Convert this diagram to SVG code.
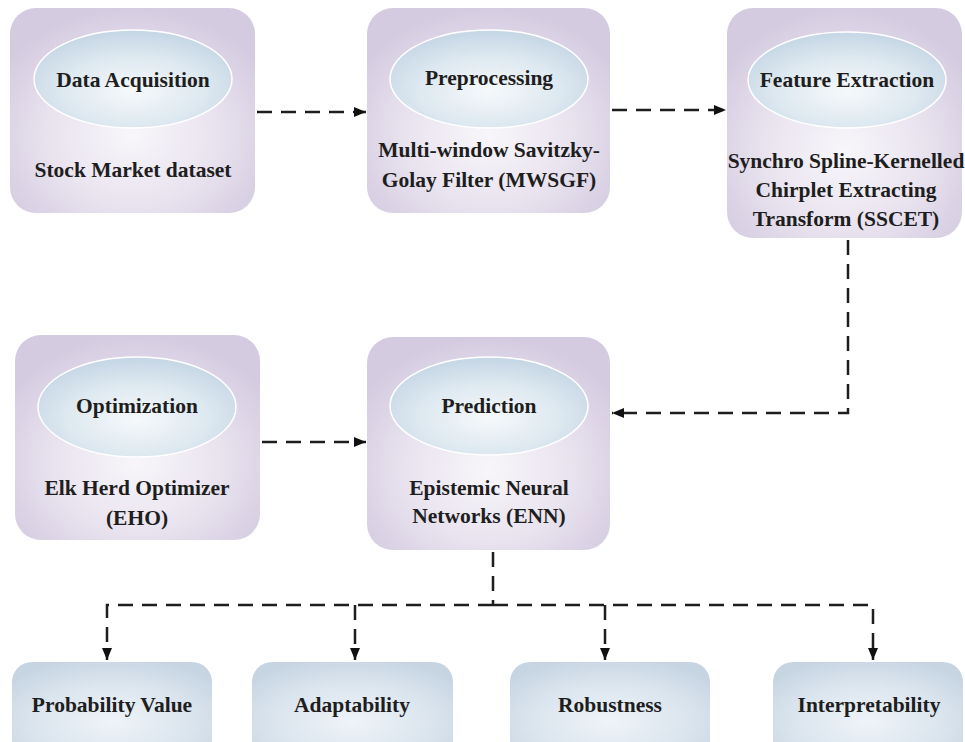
<svg xmlns="http://www.w3.org/2000/svg" width="965" height="742" viewBox="0 0 965 742">
<defs>
<radialGradient id="gBox" cx="50%" cy="62%" r="62%">
<stop offset="0" stop-color="#f8f6fa"/>
<stop offset="0.55" stop-color="#e9e3ef"/>
<stop offset="1" stop-color="#d4cbe0"/>
</radialGradient>
<radialGradient id="gEll" cx="50%" cy="62%" r="60%">
<stop offset="0" stop-color="#f6f9fb"/>
<stop offset="0.6" stop-color="#dde8f0"/>
<stop offset="1" stop-color="#c6d7e5"/>
</radialGradient>
<radialGradient id="gOut" cx="50%" cy="60%" r="65%">
<stop offset="0" stop-color="#eef3f8"/>
<stop offset="0.6" stop-color="#dbe5ee"/>
<stop offset="1" stop-color="#c7d5e3"/>
</radialGradient>
<marker id="arr" viewBox="0 0 12 10" refX="12" refY="5" markerWidth="12" markerHeight="10" markerUnits="userSpaceOnUse" orient="auto">
<path d="M0,0 L12,5 L0,10 Z" fill="#111"/>
</marker>
<style>
.box{fill:url(#gBox);}
.ell{fill:url(#gEll);stroke:#ffffff;stroke-width:1.5;}
.out{fill:url(#gOut);}
.t{font-weight:bold;font-size:21.5px;fill:#1e1e1e;text-anchor:middle;}
.c{fill:none;stroke:#1e1e1e;stroke-width:2.5;stroke-dasharray:15 9;}
</style>
</defs>

<g font-family="'Liberation Serif', 'DejaVu Serif', serif">
<g id="node-data-acquisition">
<rect class="box" x="10" y="8" width="245" height="205" rx="26"/>
<ellipse class="ell" cx="133" cy="79" rx="99" ry="49"/>
<text class="t" x="133" y="87">Data Acquisition</text>
<text class="t" x="133" y="177">Stock Market dataset</text>
</g>

<g id="node-preprocessing">
<rect class="box" x="367" y="8" width="243" height="205" rx="26"/>
<ellipse class="ell" cx="489" cy="79" rx="99" ry="49"/>
<text class="t" x="489" y="85">Preprocessing</text>
<text class="t" x="489" y="157">Multi-window Savitzky-</text>
<text class="t" x="489" y="187">Golay Filter (MWSGF)</text>
</g>

<g id="node-feature-extraction">
<rect class="box" x="727" y="8" width="235" height="230" rx="26"/>
<ellipse class="ell" cx="847" cy="80" rx="99" ry="48"/>
<text class="t" x="847" y="87">Feature Extraction</text>
<text class="t" x="846" y="168">Synchro Spline-Kernelled</text>
<text class="t" x="846" y="197">Chirplet Extracting</text>
<text class="t" x="846" y="226">Transform (SSCET)</text>
</g>

<g id="node-optimization">
<rect class="box" x="15" y="335" width="245" height="205" rx="26"/>
<ellipse class="ell" cx="137" cy="407" rx="99" ry="50"/>
<text class="t" x="137" y="413">Optimization</text>
<text class="t" x="137" y="495">Elk Herd Optimizer</text>
<text class="t" x="137" y="525">(EHO)</text>
</g>

<g id="node-prediction">
<rect class="box" x="367" y="337" width="243" height="213" rx="26"/>
<ellipse class="ell" cx="489" cy="406" rx="99" ry="49"/>
<text class="t" x="489" y="413">Prediction</text>
<text class="t" x="489" y="495">Epistemic Neural</text>
<text class="t" x="489" y="523">Networks (ENN)</text>
</g>

<g id="node-probability-value">
<rect class="out" x="12" y="662" width="200" height="100" rx="20"/>
<text class="t" x="112" y="712">Probability Value</text>
</g>
<g id="node-adaptability">
<rect class="out" x="252" y="662" width="201" height="100" rx="20"/>
<text class="t" x="352" y="712">Adaptability</text>
</g>
<g id="node-robustness">
<rect class="out" x="510" y="662" width="200" height="100" rx="20"/>
<text class="t" x="610" y="712">Robustness</text>
</g>
<g id="node-interpretability">
<rect class="out" x="773" y="662" width="190" height="100" rx="20"/>
<text class="t" x="869" y="712">Interpretability</text>
</g>
</g>

<g id="connectors">
<path class="c" d="M257,112 H366" marker-end="url(#arr)"/>
<path class="c" d="M612,110 H726" marker-end="url(#arr)"/>
<path class="c" d="M848,240 V413 H612" marker-end="url(#arr)"/>
<path class="c" d="M262,442 H366" marker-end="url(#arr)"/>
<path class="c" d="M493,552 V605"/>
<path class="c" d="M493,605 H107 V660" marker-end="url(#arr)"/>
<path class="c" d="M355,605 V660" marker-end="url(#arr)"/>
<path class="c" d="M493,605 H873 V660" marker-end="url(#arr)"/>
<path class="c" d="M605,605 V660" marker-end="url(#arr)"/>
</g>
</svg>
